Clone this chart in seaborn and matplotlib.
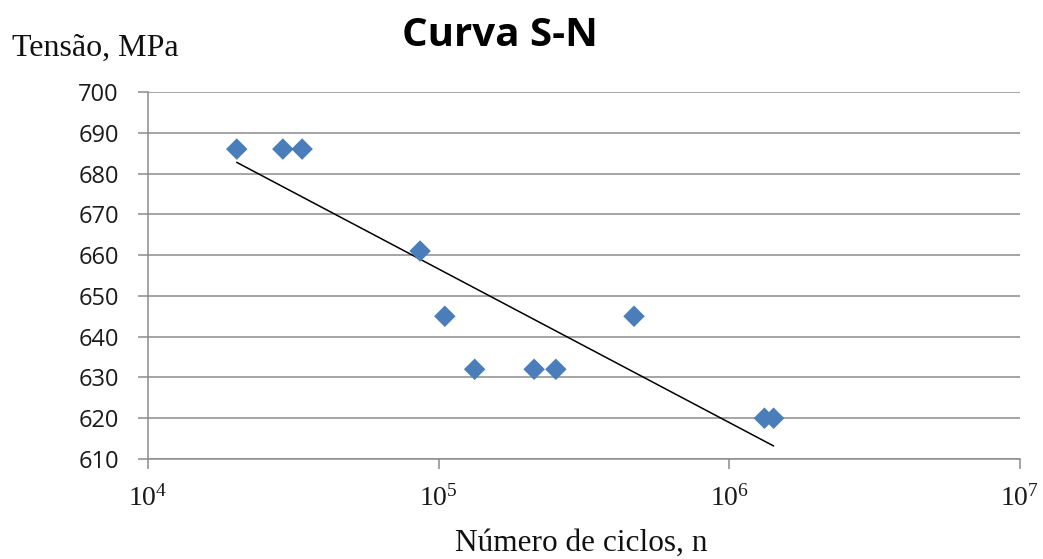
import numpy as np
import pandas as pd
import matplotlib
matplotlib.use("Agg")
import matplotlib.pyplot as plt
import matplotlib.ticker as mticker
import seaborn as sns

# Data
ciclos = [2.02e4, 2.91e4, 3.39e4, 8.63e4, 1.05e5, 1.33e5, 2.13e5, 2.53e5, 4.70e5, 1.32e6, 1.42e6]
tensao = [686, 686, 686, 661, 645, 632, 632, 632, 645, 620, 620]
x_ticks = [1e4, 1e5, 1e6, 1e7]
x_tick_labels = [r"$\mathregular{10^{4}}$", r"$\mathregular{10^{5}}$", r"$\mathregular{10^{6}}$", r"$\mathregular{10^{7}}$"]
y_ticks = [610, 620, 630, 640, 650, 660, 670, 680, 690, 700]

df = pd.DataFrame({"ciclos": ciclos, "tensao": tensao})

sns.set_theme(style="white")
plt.rcParams["mathtext.fontset"] = "custom"
plt.rcParams["mathtext.rm"] = "Liberation Serif"

fig = plt.figure(figsize=(10.43, 5.59), dpi=100)
ax = fig.add_axes([148/1043, 1-459/559, (1020-148)/1043, (459-92)/559])

ax.set_xscale("log")
sns.regplot(data=df, x="ciclos", y="tensao", logx=True, ci=None, scatter=False,
            truncate=True, color="black", line_kws={"linewidth": 1.1}, ax=ax)
sns.scatterplot(data=df, x="ciclos", y="tensao", marker="D", s=120,
                color="#4A7EBB", edgecolor="none", ax=ax, zorder=3)

ax.set_xlim(1e4, 1e7)
ax.set_ylim(610, 700)
ax.set_xticks(x_ticks)
ax.set_xticklabels(x_tick_labels, fontsize=20, family="Liberation Serif", color="#1a1a1a")
ax.xaxis.set_minor_locator(mticker.NullLocator())
ax.set_yticks(y_ticks)
ax.set_yticklabels([str(v) for v in y_ticks], fontsize=17, family="Open Sans", color="#1a1a1a")

ax.yaxis.grid(True, color="#8c8c8c", linewidth=1.1)
ax.xaxis.grid(False)
for s in ["top", "right"]:
    ax.spines[s].set_visible(False)
for s in ["left", "bottom"]:
    ax.spines[s].set_color("#8c8c8c")
    ax.spines[s].set_linewidth(1.1)
ax.tick_params(axis="x", direction="out", length=7, width=1.1, color="#8c8c8c", pad=12, bottom=True)
ax.tick_params(axis="y", direction="out", length=7, width=1.1, color="#8c8c8c", pad=14, left=True)
ax.set_xlabel("")
ax.set_ylabel("")

fig.text(500/1043, 1-35/559, "Curva S-N", ha="center", va="center",
         fontsize=29, fontweight="bold", family="Open Sans", color="black")
fig.text(12/1043, 1-48/559, "Tensão, MPa", ha="left", va="center",
         fontsize=23, family="Liberation Serif", color="#111111")
fig.text(581/1043, 1-543/559, "Número de ciclos, n", ha="center", va="center",
         fontsize=22.5, family="Liberation Serif", color="#111111")

fig.savefig("out.png", dpi=100)
